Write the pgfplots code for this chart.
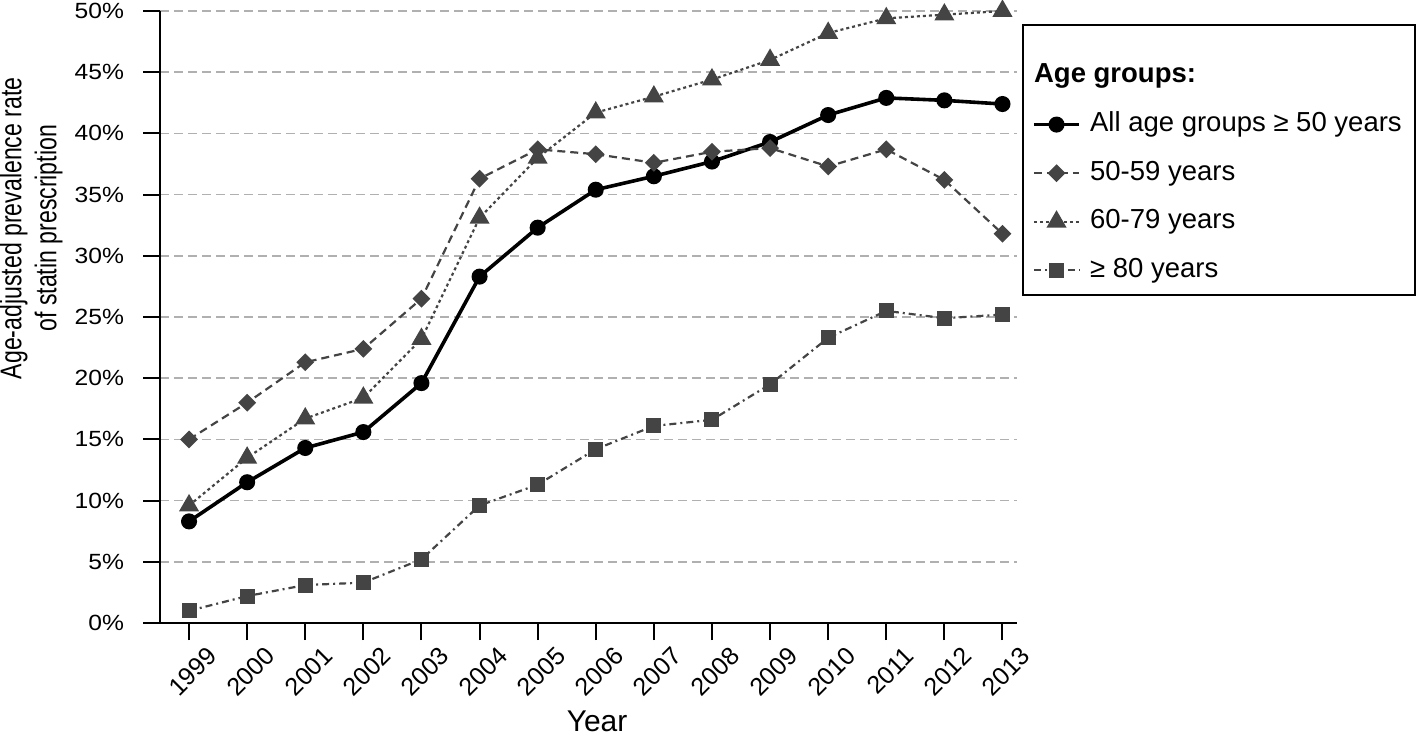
\documentclass[border=0pt]{standalone}
\usepackage{pgfplots}
\pgfplotsset{compat=1.18}
\usepackage{fontspec}
\setmainfont{Liberation Sans}
\newfontfamily\narrowfont[FakeStretch=0.77]{Liberation Sans}
\newfontfamily\widefont[FakeStretch=1.12]{Liberation Sans}
\definecolor{dgray}{HTML}{444444}
\definecolor{ggray}{HTML}{B0B0B0}
\begin{document}
\begin{tikzpicture}
\path[use as bounding box] (-80pt,-56.5pt) rectangle (629pt,311.5pt);
\begin{axis}[
  at={(0,0)}, anchor=south west,
  scale only axis, width=428.5pt, height=306pt,
  xmin=1998.5, xmax=2013.25, ymin=0, ymax=50,
  axis x line*=bottom, axis y line*=left,
  axis line style={line width=1pt, -},
  xtick={1999,...,2013}, ytick={0,5,...,50},
  ymajorgrids,
  grid style={ggray, line width=0.8pt, dash pattern=on 4.5pt off 2.5pt},
  tick align=outside, major tick length=8.5pt,
  tick style={line width=1pt, black},
  /pgf/number format/.cd, 1000 sep={}, assume math mode=true, /pgfplots/.cd,
  yticklabel={\pgfmathprintnumber{\tick}\%},
  y tick label style={font=\widefont\fontsize{11}{12}\selectfont, xshift=-6pt},
  x tick label style={font=\fontsize{12.5}{14}\selectfont, xshift=8.5pt, yshift=-2.5pt, rotate=45, anchor=north east, inner sep=0pt},
  xlabel={Year},
  xlabel style={at={(axis description cs:0.51,-0.1765)}, anchor=base, font=\fontsize{15}{17}\selectfont},
  ylabel={Age-adjusted prevalence rate\\of statin prescription},
  ylabel style={at={(axis description cs:-0.1505,0.645)}, anchor=center, align=center, font=\narrowfont\fontsize{15}{17.5}\selectfont},
  clip=false,
  legend cell align=left,
  legend style={at={(rel axis cs:1.0058,0.9788)}, anchor=north west, draw=black, line width=1pt,
    font=\fontsize{13.75}{16}\selectfont, inner xsep=4.5pt, inner ysep=4pt, row sep=7.3pt,
    nodes={inner sep=2pt, text height=10pt, text depth=3pt},
    /tikz/every odd column/.append style={column sep=2.5pt}},
  legend image code/.code={\draw[mark repeat=2, mark phase=2] plot coordinates {(0cm,0cm) (0.4cm,0cm) (0.8cm,0cm)};},
]
\addlegendimage{empty legend}
\addlegendentry[text height=23pt]{\hspace*{-28pt}\textbf{Age groups:}}

\addplot[black, line width=1.8pt, mark=*, mark size=3.1pt, mark options={solid}] coordinates {
(1999,8.3) (2000,11.5) (2001,14.3) (2002,15.6) (2003,19.6) (2004,28.3) (2005,32.3) (2006,35.4)
(2007,36.5) (2008,37.7) (2009,39.3) (2010,41.5) (2011,42.9) (2012,42.7) (2013,42.4)};
\addlegendentry{All age groups ≥ 50 years}

\addplot[dgray, line width=1.1pt, dash pattern=on 4pt off 2.5pt, mark=square*, mark size=2.6pt, mark options={solid, rotate=45}] coordinates {
(1999,15.0) (2000,18.0) (2001,21.3) (2002,22.4) (2003,26.5) (2004,36.3) (2005,38.7) (2006,38.3)
(2007,37.6) (2008,38.5) (2009,38.8) (2010,37.3) (2011,38.7) (2012,36.2) (2013,31.8)};
\addlegendentry{50-59 years}

\addplot[dgray, line width=1.1pt, dash pattern=on 1.5pt off 1.5pt, mark=triangle*, mark size=4.7pt, mark options={solid}] coordinates {
(1999,9.6) (2000,13.5) (2001,16.7) (2002,18.4) (2003,23.2) (2004,33.1) (2005,38.0) (2006,41.7)
(2007,43.0) (2008,44.4) (2009,46.0) (2010,48.2) (2011,49.4) (2012,49.7) (2013,50.0)};
\addlegendentry{60-79 years}

\addplot[dgray, line width=1.1pt, dash pattern=on 3.5pt off 2pt on 1pt off 2pt, mark=square*, mark size=3.2pt, mark options={solid}] coordinates {
(1999,1.0) (2000,2.2) (2001,3.1) (2002,3.3) (2003,5.2) (2004,9.6) (2005,11.3) (2006,14.2)
(2007,16.1) (2008,16.6) (2009,19.5) (2010,23.3) (2011,25.5) (2012,24.9) (2013,25.2)};
\addlegendentry{≥ 80 years}
\end{axis}
\end{tikzpicture}
\end{document}
